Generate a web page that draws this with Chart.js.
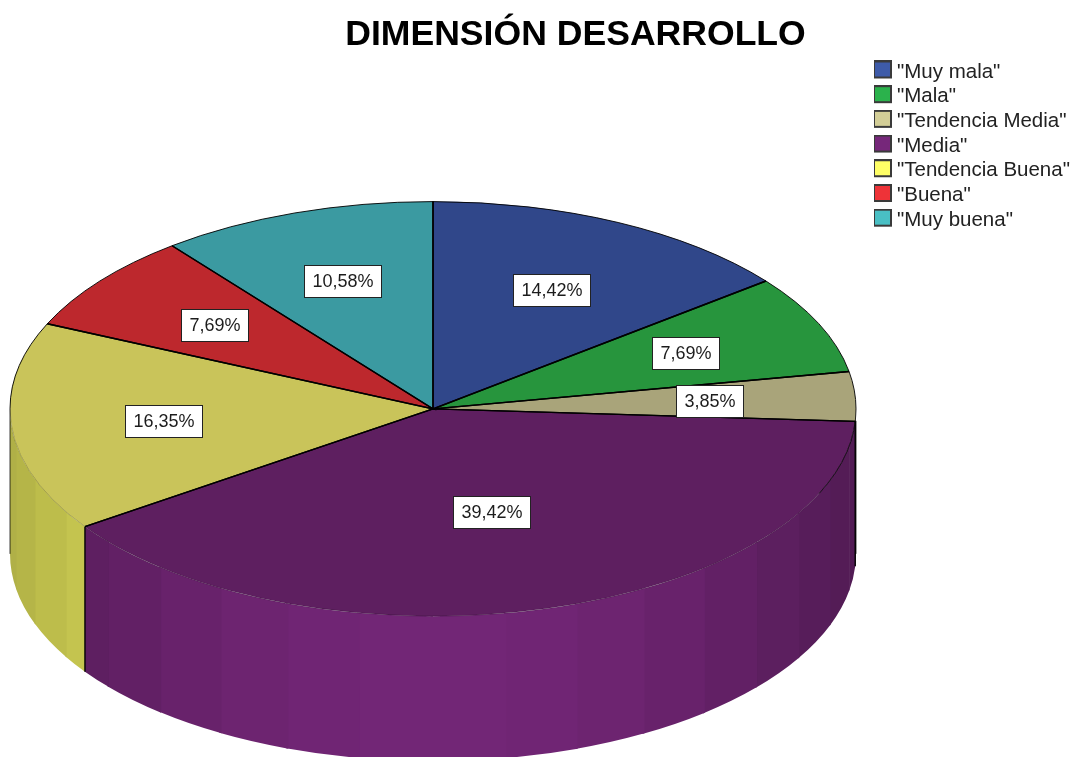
<!DOCTYPE html>
<html>
<head>
<meta charset="utf-8">
<title>Dimensión Desarrollo</title>
<script src="https://cdn.jsdelivr.net/npm/chart.js@4"></script>
<style>
  html, body { margin: 0; padding: 0; background: #fff; overflow: hidden; }
  canvas { display: block; filter: blur(0.4px); }
</style>
</head>
<body>
<canvas id="pie" width="1073" height="757"></canvas>
<script>
const chartTitle = 'DIMENSIÓN DESARROLLO';
const categories = ['"Muy mala"', '"Mala"', '"Tendencia Media"', '"Media"', '"Tendencia Buena"', '"Buena"', '"Muy buena"'];
const percentages = [14.42, 7.69, 3.85, 39.42, 16.35, 7.69, 10.58];
const topColors = ['#30478a', '#27953d', '#a9a47a', '#5e1f60', '#c9c45a', '#bd282d', '#3b9aa1'];
const legendColors = ['#3e5ba9', '#2bb24c', '#d3ce97', '#76277a', '#ffff66', '#ee3338', '#49bfc4'];

const SQUASH = 0.49;     // tilt of the disc
const DEPTH = 145;       // height of the side wall
const FACET = Math.PI / 18;
const LABEL_FONT = '18px "Liberation Sans"';

function shaded(hex, f) {
  const n = parseInt(hex.slice(1), 16);
  return 'rgb(' + [n >> 16, (n >> 8) & 255, n & 255].map(c => Math.round(c * f)).join(',') + ')';
}

// legend box; the canvas is taller than the box so it sits a bit above the text centre
function swatch(color) {
  const c = document.createElement('canvas');
  c.width = 19; c.height = 23;
  const g = c.getContext('2d');
  g.fillStyle = color;
  g.fillRect(0, 0, 19, 18);
  g.strokeStyle = '#3a3a3a';
  g.lineWidth = 2;
  g.strokeRect(1, 1, 17, 16);
  return c;
}

// bigger slices keep their label nearer the centre
function labelRadius(pct) {
  if (pct > 35) return 0.515;
  return pct > 14 ? 0.64 : 0.655;
}

// side wall under the front half of the disc, in flat vertical bands
function drawWall(ctx, arc, color) {
  const {x, y, startAngle, endAngle, outerRadius: r} = arc.getProps(['x', 'y', 'startAngle', 'endAngle', 'outerRadius']);
  const from = Math.max(startAngle, 0), to = Math.min(endAngle, Math.PI);
  if (to <= from) return;
  let a = from;
  while (a < to) {
    const next = Math.min((Math.floor(a / FACET + 1e-6) + 1) * FACET, to);
    const s = Math.cos((a + next) / 2);
    // run each band a little under the next one so no seam shows
    const end = Math.min(next + 0.006, to);
    ctx.beginPath();
    ctx.ellipse(x, y, r, r * SQUASH, 0, a, end);
    ctx.ellipse(x, y + DEPTH, r, r * SQUASH, 0, end, a, true);
    ctx.closePath();
    ctx.fillStyle = shaded(color, 0.97 - 0.28 * s * s);
    ctx.fill();
    a = next;
  }
}

function drawEdges(ctx, arc) {
  const {x, y, startAngle, endAngle, outerRadius: r} = arc.getProps(['x', 'y', 'startAngle', 'endAngle', 'outerRadius']);
  const ry = r * SQUASH;
  ctx.strokeStyle = '#000';
  ctx.lineWidth = 1.4;
  ctx.beginPath();
  ctx.moveTo(x + r * Math.cos(startAngle), y + ry * Math.sin(startAngle));
  ctx.lineTo(x, y);
  ctx.lineTo(x + r * Math.cos(endAngle), y + ry * Math.sin(endAngle));
  ctx.stroke();
  // rim: solid along the back, barely there along the front
  const segments = [[startAngle, Math.min(endAngle, 0), 'rgba(0,0,0,0.9)'],
    [Math.max(startAngle, Math.PI), endAngle, 'rgba(0,0,0,0.9)'],
    [Math.max(startAngle, 0), Math.min(endAngle, Math.PI), 'rgba(0,0,0,0.2)']];
  segments.forEach(([a, b, col]) => {
    if (b <= a) return;
    ctx.beginPath();
    ctx.ellipse(x, y, r, ry, 0, a, b);
    ctx.lineWidth = 1;
    ctx.strokeStyle = col;
    ctx.stroke();
  });
}

const pie3d = {
  id: 'pie3d',
  afterLayout(chart) {
    // same placement as the source picture: disc left, title over it, legend top right
    chart.titleBlock.left += 39;
    chart.titleBlock.right += 39;
    chart.legend.left = 874;
    chart.legend.top = 57.5;
    chart.chartArea.left = 0;
    chart.chartArea.right = 866;
  },
  beforeDatasetsDraw(chart) {
    const ctx = chart.ctx, arcs = chart.getDatasetMeta(0).data;
    arcs.forEach((arc, i) => drawWall(ctx, arc, legendColors[i]));
    const {x, y} = arcs[0];
    ctx.save();
    ctx.translate(x, y);
    ctx.scale(1, SQUASH);
    ctx.translate(-x, -y);
  },
  afterDatasetsDraw(chart) {
    const ctx = chart.ctx, arcs = chart.getDatasetMeta(0).data;
    ctx.restore();
    const {x, y, outerRadius: r} = arcs[0];
    const ry = r * SQUASH;
    arcs.forEach(arc => drawEdges(ctx, arc));

    // hard corner of the wall where two slices meet at the front, and the silhouette
    ctx.strokeStyle = '#000';
    ctx.lineWidth = 1.4;
    arcs.forEach(arc => {
      const a = arc.endAngle;
      if (a > 0 && a < Math.PI) {
        const px = x + r * Math.cos(a), py = y + ry * Math.sin(a);
        ctx.beginPath();
        ctx.moveTo(px, py);
        ctx.lineTo(px, py + DEPTH);
        ctx.stroke();
      }
    });
    ctx.lineWidth = 1;
    ctx.strokeStyle = 'rgba(0,0,0,0.75)';
    ctx.beginPath();
    ctx.moveTo(x + r, y + 12);
    ctx.lineTo(x + r, y + DEPTH);
    ctx.moveTo(x - r, y);
    ctx.lineTo(x - r, y + DEPTH);
    ctx.stroke();
    ctx.beginPath();
    ctx.ellipse(x, y, r, ry, 0, 0, 0.42);
    ctx.stroke();

    // value labels
    ctx.font = LABEL_FONT;
    ctx.textAlign = 'center';
    ctx.textBaseline = 'middle';
    arcs.forEach((arc, i) => {
      const mid = (arc.startAngle + arc.endAngle) / 2;
      const f = labelRadius(percentages[i]);
      const lx = x + r * f * Math.cos(mid), ly = y + ry * f * Math.sin(mid);
      const text = percentages[i].toFixed(2).replace('.', ',') + '%';
      const w = Math.round(ctx.measureText(text).width) + 16, h = 32;
      const bx = Math.round(lx - w / 2), by = Math.round(ly - h / 2);
      ctx.fillStyle = '#fff';
      ctx.fillRect(bx, by, w, h);
      ctx.strokeStyle = '#222';
      ctx.lineWidth = 1;
      ctx.strokeRect(bx + 0.5, by + 0.5, w, h);
      ctx.fillStyle = '#1c1c1c';
      ctx.fillText(text, bx + w / 2 + 0.5, by + h / 2 + 1);
    });
  }
};

const swatches = legendColors.map(swatch);

new Chart(document.getElementById('pie'), {
  type: 'pie',
  plugins: [pie3d],
  data: {
    labels: categories,
    datasets: [{
      data: percentages,
      backgroundColor: topColors,
      borderWidth: 0,
      hoverOffset: 0,
      clip: false
    }]
  },
  options: {
    responsive: false,
    animation: false,
    events: [],
    radius: 423,
    layout: { padding: { top: 14, right: 0, bottom: 0, left: 0 } },
    plugins: {
      tooltip: { enabled: false },
      title: {
        display: true,
        text: chartTitle,
        color: '#000',
        font: { family: '"Liberation Sans"', size: 35.6, weight: 'bold', lineHeight: 1.2 },
        padding: { top: 0, bottom: 4 }
      },
      legend: {
        position: 'right',
        align: 'start',
        labels: {
          color: '#222',
          font: { family: '"Liberation Sans"', size: 20.5 },
          usePointStyle: true,
          pointStyleWidth: 8.5,
          padding: 4.2,
          generateLabels: () => categories.map((text, i) => ({
            text,
            fontColor: '#222',
            pointStyle: swatches[i],
            index: i
          }))
        }
      }
    }
  }
});
</script>
</body>
</html>
